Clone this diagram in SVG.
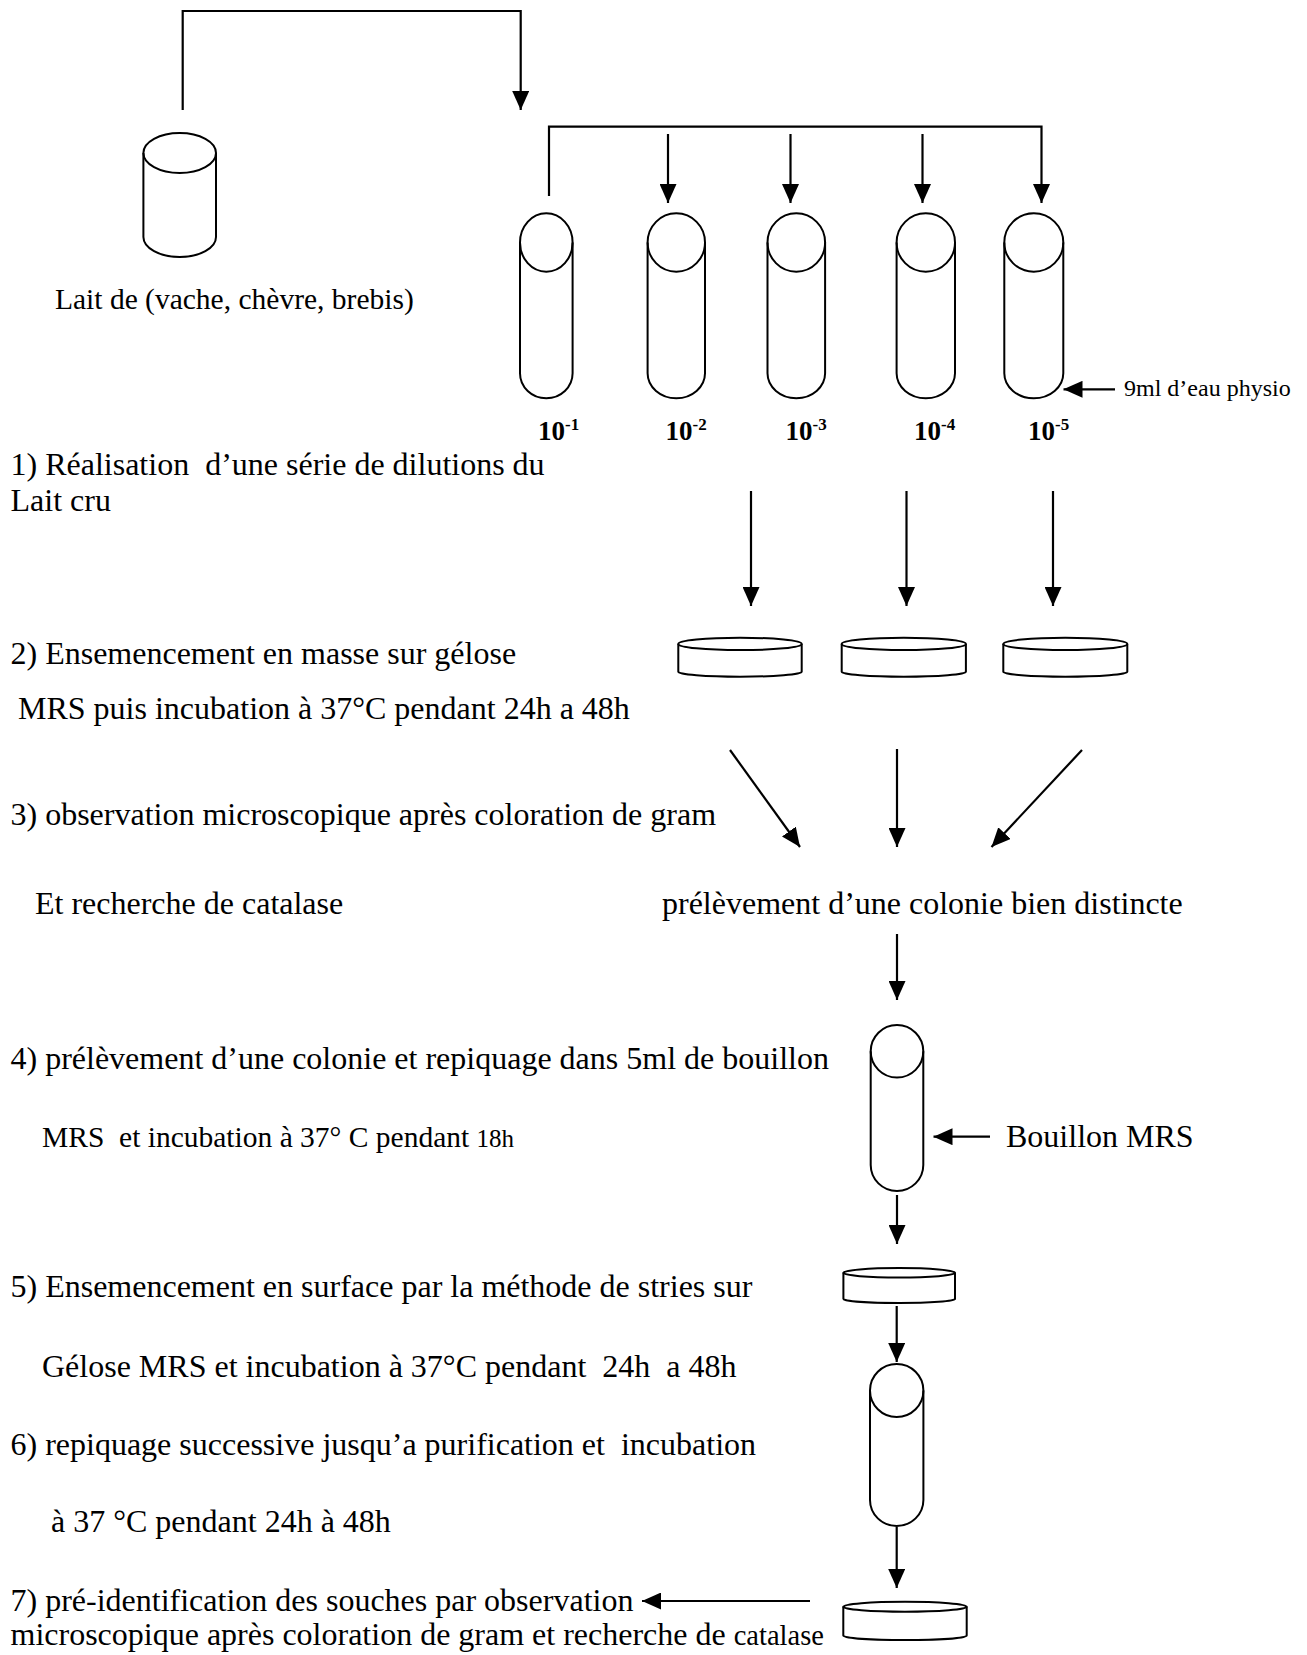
<svg xmlns="http://www.w3.org/2000/svg" width="1307" height="1655" viewBox="0 0 1307 1655">
<style>
.s{fill:none;stroke:#000;stroke-width:2}
.c{fill:none;stroke:#000;stroke-width:2.2}
.t{font-family:"Liberation Serif","Times New Roman",serif;font-size:32px;fill:#000}
.b{font-family:"Liberation Serif","Times New Roman",serif;font-size:27px;font-weight:bold;fill:#000}
.sup{font-size:17px}
</style>
<defs>
<marker id="ah" markerUnits="userSpaceOnUse" markerWidth="19" markerHeight="17" refX="19" refY="8.5" orient="auto">
<path d="M0,0 L19,8.5 L0,17 z" fill="#000"/>
</marker>
</defs>
<rect width="1307" height="1655" fill="#fff"/>

<g id="lait">
<ellipse class="s" cx="179.7" cy="153" rx="36.3" ry="20"/>
<path class="s" d="M143.4,153 L143.4,237 A36.3,20 0 0 0 216,237 L216,153"/>
<text class="t" x="55" y="309" style="font-size:29.5px">Lait de (vache, chèvre, brebis)</text>
</g>

<g id="tube1">
<ellipse class="s" cx="546.3" cy="242.5" rx="26.3" ry="29.2"/>
<path class="s" d="M520,242.5 L520,373.3 A26.3,25 0 0 0 572.6,373.3 L572.6,242.5"/>
<text class="b" x="538" y="440">10<tspan class="sup" dy="-10">-1</tspan></text>
</g>
<g id="tube2">
<ellipse class="s" cx="676.3" cy="242.5" rx="28.7" ry="29.2"/>
<path class="s" d="M647.6,242.5 L647.6,373.3 A28.7,25 0 0 0 705,373.3 L705,242.5"/>
<text class="b" x="665.5" y="440">10<tspan class="sup" dy="-10">-2</tspan></text>
</g>
<g id="tube3">
<ellipse class="s" cx="796.3" cy="242.5" rx="28.8" ry="29.2"/>
<path class="s" d="M767.5,242.5 L767.5,373.3 A28.8,25 0 0 0 825.1,373.3 L825.1,242.5"/>
<text class="b" x="785.5" y="440">10<tspan class="sup" dy="-10">-3</tspan></text>
</g>
<g id="tube4">
<ellipse class="s" cx="925.8" cy="242.5" rx="29.2" ry="29.2"/>
<path class="s" d="M896.6,242.5 L896.6,373.3 A29.2,25 0 0 0 955,373.3 L955,242.5"/>
<text class="b" x="914" y="440">10<tspan class="sup" dy="-10">-4</tspan></text>
</g>
<g id="tube5">
<ellipse class="s" cx="1033.8" cy="242.5" rx="29.5" ry="29.2"/>
<path class="s" d="M1004.3,242.5 L1004.3,373.3 A29.5,25 0 0 0 1063.3,373.3 L1063.3,242.5"/>
<text class="b" x="1028" y="440">10<tspan class="sup" dy="-10">-5</tspan></text>
</g>
<g id="label-eau">
<text class="t" x="1124" y="396" style="font-size:24px">9ml d’eau physio</text>
</g>

<g id="step1">
<text class="t" x="10.5" y="475" xml:space="preserve">1) Réalisation  d’une série de dilutions du</text>
<text class="t" x="10.5" y="511">Lait cru</text>
</g>

<g id="plate1">
<ellipse class="s" cx="740" cy="643.9" rx="61.7" ry="6.2"/>
<path class="s" d="M678.3,643.9 L678.3,671.7 A61.7,5 0 0 0 801.7,671.7 L801.7,643.9"/>
</g>
<g id="plate2">
<ellipse class="s" cx="903.8" cy="643.9" rx="62.1" ry="6.2"/>
<path class="s" d="M841.7,643.9 L841.7,671.7 A62.1,5 0 0 0 965.9,671.7 L965.9,643.9"/>
</g>
<g id="plate3">
<ellipse class="s" cx="1065.3" cy="643.9" rx="62" ry="6.2"/>
<path class="s" d="M1003.3,643.9 L1003.3,671.7 A62,5 0 0 0 1127.3,671.7 L1127.3,643.9"/>
</g>

<g id="step2">
<text class="t" x="10.5" y="664">2) Ensemencement en masse sur gélose</text>
<text class="t" x="18" y="719">MRS puis incubation à 37°C pendant 24h a 48h</text>
</g>
<g id="step3">
<text class="t" x="10.5" y="825">3) observation microscopique après coloration de gram</text>
<text class="t" x="35" y="914">Et recherche de catalase</text>
</g>
<g id="colonie">
<text class="t" x="662" y="914">prélèvement d’une colonie bien distincte</text>
</g>

<g id="tube-bouillon">
<ellipse class="s" cx="897" cy="1051.3" rx="26.3" ry="26.3"/>
<path class="s" d="M870.7,1051.3 L870.7,1165 A26.3,26 0 0 0 923.3,1165 L923.3,1051.3"/>
<text class="t" x="1006" y="1147">Bouillon MRS</text>
</g>
<g id="step4">
<text class="t" x="10.5" y="1069">4) prélèvement d’une colonie et repiquage dans 5ml de bouillon</text>
<text class="t" x="42" y="1147" style="font-size:29.5px" xml:space="preserve">MRS  et incubation à 37° C pendant <tspan style="font-size:25px">18h</tspan></text>
</g>

<g id="plate-stries">
<ellipse class="s" cx="899.2" cy="1272.8" rx="55.8" ry="4.8"/>
<path class="s" d="M843.4,1272.8 L843.4,1299 A55.8,4 0 0 0 955,1299 L955,1272.8"/>
</g>
<g id="step5">
<text class="t" x="10.5" y="1297">5) Ensemencement en surface par la méthode de stries sur</text>
<text class="t" x="42" y="1377" xml:space="preserve">Gélose MRS et incubation à 37°C pendant  24h  a 48h</text>
</g>

<g id="tube-purif">
<ellipse class="s" cx="896.7" cy="1390.5" rx="26.7" ry="26.5"/>
<path class="s" d="M870,1390.5 L870,1500 A26.7,26 0 0 0 923.4,1500 L923.4,1390.5"/>
</g>
<g id="step6">
<text class="t" x="10.5" y="1455" xml:space="preserve">6) repiquage successive jusqu’a purification et  incubation</text>
<text class="t" x="51" y="1532">à 37 °C pendant 24h à 48h</text>
</g>

<g id="plate-final">
<ellipse class="s" cx="905" cy="1606.7" rx="61.7" ry="5"/>
<path class="s" d="M843.3,1606.7 L843.3,1635.5 A61.7,4.5 0 0 0 966.7,1635.5 L966.7,1606.7"/>
</g>
<g id="step7">
<text class="t" x="10.5" y="1611">7) pré-identification des souches par observation</text>
<text class="t" x="10.5" y="1645">microscopique après coloration de gram et recherche de <tspan style="font-size:28.5px">catalase</tspan></text>
</g>

<g id="connectors">
<path class="c" d="M182.7,110 L182.7,11 L520.7,11 L520.7,110" marker-end="url(#ah)"/>
<path class="c" d="M549,196 L549,126.7 L1041.5,126.7 L1041.5,203" marker-end="url(#ah)"/>
<line class="c" x1="668" y1="134" x2="668" y2="203" marker-end="url(#ah)"/>
<line class="c" x1="790.5" y1="134" x2="790.5" y2="203" marker-end="url(#ah)"/>
<line class="c" x1="922.5" y1="134" x2="922.5" y2="203" marker-end="url(#ah)"/>
<line class="c" x1="1115" y1="389.3" x2="1063.5" y2="389.3" marker-end="url(#ah)"/>
<line class="c" x1="751" y1="491" x2="751" y2="606" marker-end="url(#ah)"/>
<line class="c" x1="906.5" y1="491" x2="906.5" y2="606" marker-end="url(#ah)"/>
<line class="c" x1="1053" y1="491" x2="1053" y2="606" marker-end="url(#ah)"/>
<line class="c" x1="730" y1="750" x2="800" y2="847" marker-end="url(#ah)"/>
<line class="c" x1="897" y1="749" x2="897" y2="847" marker-end="url(#ah)"/>
<line class="c" x1="1082" y1="750" x2="991.5" y2="847" marker-end="url(#ah)"/>
<line class="c" x1="897" y1="934" x2="897" y2="1000" marker-end="url(#ah)"/>
<line class="c" x1="990" y1="1136.7" x2="933.5" y2="1136.7" marker-end="url(#ah)"/>
<line class="c" x1="897" y1="1195" x2="897" y2="1244" marker-end="url(#ah)"/>
<line class="c" x1="896.7" y1="1306" x2="896.7" y2="1362" marker-end="url(#ah)"/>
<line class="c" x1="896.7" y1="1527" x2="896.7" y2="1588" marker-end="url(#ah)"/>
<line class="c" x1="810" y1="1601" x2="642" y2="1601" marker-end="url(#ah)"/>
</g>
</svg>
